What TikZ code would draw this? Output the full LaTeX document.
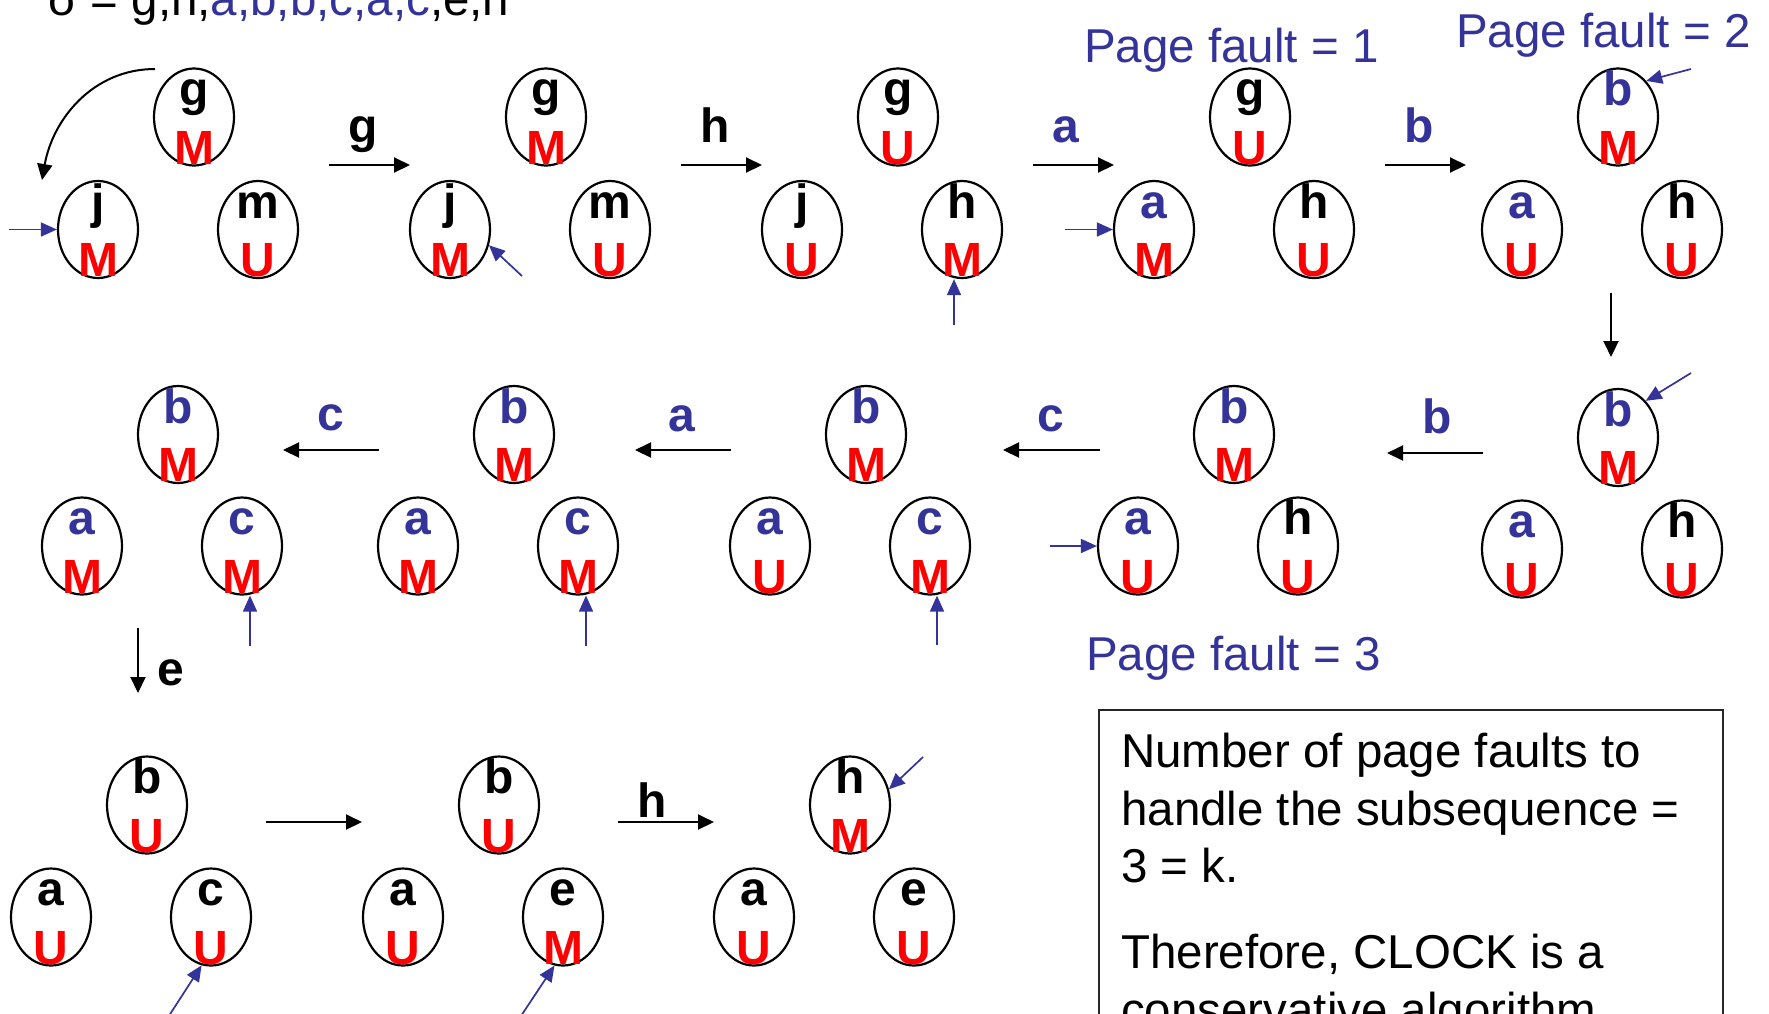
\documentclass[tikz,border=0pt]{standalone}
\usepackage{fontspec}
\setmainfont{Liberation Sans}
\usetikzlibrary{arrows.meta,shapes.geometric}

\definecolor{pfblue}{RGB}{51,51,153}
\definecolor{bitred}{RGB}{255,0,0}

\newcommand\bl[1]{\textcolor{pfblue}{#1}}

\tikzset{
  pg/.style={ellipse, draw=black, line width=2.2pt, minimum width=80pt,
    minimum height=97pt, inner sep=0pt},
  lbl/.style={font=\fontsize{48}{48}\selectfont\bfseries, inner sep=0pt, anchor=base},
  bit/.style={lbl, text=bitred},
  stepar/.style={line width=2pt, -{Triangle[length=16pt,width=15pt]}},
  ptr/.style={draw=pfblue, line width=1.7pt, -{Triangle[length=16pt,width=14pt]}},
  pf/.style={font=\fontsize{47.5}{47.5}\selectfont, text=pfblue, inner sep=0pt,
    anchor=base west},
  note/.style={font=\fontsize{47.5}{47.5}\selectfont, inner sep=0pt, anchor=base west},
}

% one clock slot: name, x, y, page letter, use bit
\newcommand\pgcell[5]{%
  \node[pg] (#1) at (#2,#3) {};
  \node[lbl] (#1-l) at ([yshift=11.5pt]#1.center) {#4};
  \node[bit] (#1-b) at ([yshift=-47pt]#1.center) {#5};
}

\begin{document}
\begin{tikzpicture}[x=1pt,y=-1pt]
\useasboundingbox (0,0) rectangle (1769,1013);
\fill[white] (0,0) rectangle (1769,1013);
\clip (0,0) rectangle (1769,1013);

% request sequence
\node[font=\fontsize{47.5}{47.5}\selectfont, inner sep=0pt, anchor=base west] (seq)
  at (48,15) {σ = g,h,\bl{a,b,b,c,a,c},e,h};

% ---- first row ----
\pgcell{g1t}{194}{117}{g}{M}
\pgcell{g1l}{98}{229.5}{j}{M}
\pgcell{g1r}{258}{229.5}{m}{U}

\pgcell{g2t}{546}{117}{g}{M}
\pgcell{g2l}{450}{229.5}{j}{M}
\pgcell{g2r}{610}{229.5}{m}{U}

\pgcell{g3t}{898}{117}{g}{U}
\pgcell{g3l}{802}{229.5}{j}{U}
\pgcell{g3r}{962}{229.5}{h}{M}

\pgcell{g4t}{1250}{117}{g}{U}
\pgcell{g4l}{1154}{229.5}{\bl{a}}{M}
\pgcell{g4r}{1314}{229.5}{h}{U}

\pgcell{g5t}{1618}{117}{\bl{b}}{M}
\pgcell{g5l}{1522}{229.5}{\bl{a}}{U}
\pgcell{g5r}{1682}{229.5}{h}{U}

% ---- second row ----
\pgcell{r5t}{1618}{437.5}{\bl{b}}{M}
\pgcell{r5l}{1522}{549}{\bl{a}}{U}
\pgcell{r5r}{1682}{549}{h}{U}

\pgcell{r4t}{1234}{434.5}{\bl{b}}{M}
\pgcell{r4l}{1138}{546}{\bl{a}}{U}
\pgcell{r4r}{1298}{546}{h}{U}

\pgcell{r3t}{866}{434.5}{\bl{b}}{M}
\pgcell{r3l}{770}{546}{\bl{a}}{U}
\pgcell{r3r}{930}{546}{\bl{c}}{M}

\pgcell{r2t}{514}{434.5}{\bl{b}}{M}
\pgcell{r2l}{418}{546}{\bl{a}}{M}
\pgcell{r2r}{578}{546}{\bl{c}}{M}

\pgcell{r1t}{178}{434.5}{\bl{b}}{M}
\pgcell{r1l}{82}{546}{\bl{a}}{M}
\pgcell{r1r}{242}{546}{\bl{c}}{M}

% ---- third row ----
\pgcell{s1t}{147}{805}{b}{U}
\pgcell{s1l}{51}{917}{a}{U}
\pgcell{s1r}{211}{917}{c}{U}

\pgcell{s2t}{499}{805}{b}{U}
\pgcell{s2l}{403}{917}{a}{U}
\pgcell{s2r}{563}{917}{e}{M}

\pgcell{s3t}{850}{805}{h}{M}
\pgcell{s3l}{754}{917}{a}{U}
\pgcell{s3r}{914}{917}{e}{U}

% ---- step arrows between states ----
\coordinate (a1s) at (329,165);  \coordinate (a1e) at (410,165);
\coordinate (a2s) at (681,165);  \coordinate (a2e) at (762,165);
\coordinate (a3s) at (1033,165); \coordinate (a3e) at (1114,165);
\coordinate (a4s) at (1385,165); \coordinate (a4e) at (1466,165);
\coordinate (d1s) at (1611,293); \coordinate (d1e) at (1611,357);
\coordinate (b1s) at (1483,453); \coordinate (b1e) at (1387,453);
\coordinate (b2s) at (1100,450); \coordinate (b2e) at (1003,450);
\coordinate (b3s) at (731,450);  \coordinate (b3e) at (635,450);
\coordinate (b4s) at (379,450);  \coordinate (b4e) at (283,450);
\coordinate (d2s) at (138,628);  \coordinate (d2e) at (138,693);
\coordinate (c1s) at (266,822);  \coordinate (c1e) at (362,822);
\coordinate (c2s) at (618,822);  \coordinate (c2e) at (714,822);
\coordinate (arcs) at (155,69);  \coordinate (arce) at (42,180);

\draw[stepar] (arcs) to[out=180,in=80] (arce);
\draw[stepar] (a1s) -- (a1e);
\draw[stepar] (a2s) -- (a2e);
\draw[stepar] (a3s) -- (a3e);
\draw[stepar] (a4s) -- (a4e);
\draw[stepar] (d1s) -- (d1e);
\draw[stepar] (b1s) -- (b1e);
\draw[stepar] (b2s) -- (b2e);
\draw[stepar] (b3s) -- (b3e);
\draw[stepar] (b4s) -- (b4e);
\draw[stepar] (d2s) -- (d2e);
\draw[stepar] (c1s) -- (c1e);
\draw[stepar] (c2s) -- (c2e);

\node[lbl] (la1) at (363,142) {g};
\node[lbl] (la2) at (715,142) {h};
\node[lbl, text=pfblue] (la3) at (1066,142) {a};
\node[lbl, text=pfblue] (la4) at (1419,142) {b};
\node[lbl, text=pfblue] (lb1) at (1437,433) {b};
\node[lbl, text=pfblue] (lb2) at (1051,431) {c};
\node[lbl, text=pfblue] (lb3) at (682,431) {a};
\node[lbl, text=pfblue] (lb4) at (331,430) {c};
\node[lbl] (ld2) at (171,685) {e};
\node[lbl] (lc2) at (652,817) {h};

% ---- clock hand pointers ----
\coordinate (p1) at (9,229.5);
\coordinate (p2) at (522,276);
\coordinate (p3) at (954,325);
\coordinate (p4) at (1065,229.5);
\coordinate (p5) at (1691,69);
\coordinate (p6) at (1691,373);
\coordinate (p7) at (1050,546);
\coordinate (p8) at (937,645);
\coordinate (p9) at (586,646);
\coordinate (p10) at (250,646);
\coordinate (p11) at (165,1022);
\coordinate (p12) at (517,1022);
\coordinate (p13) at (923,757);

\draw[ptr] (p1) -- (g1l.west);
\draw[ptr] (p2) -- (g2l.-22);
\draw[ptr] (p3) -- (p3 |- g3r.south);
\draw[ptr] (p4) -- (g4l.west);
\draw[ptr] (p5) -- (g5t.52);
\draw[ptr] (p6) -- (r5t.53);
\draw[ptr] (p7) -- (r4l.west);
\draw[ptr] (p8) -- (p8 |- r3r.south);
\draw[ptr] (p9) -- (p9 |- r2r.south);
\draw[ptr] (p10) -- (p10 |- r1r.south);
\draw[ptr] (p11) -- (s1r.-101);
\draw[ptr] (p12) -- (s2r.-100);
\draw[ptr] (p13) -- (s3t.22);

% ---- fault counters ----
\node[pf] (pf1) at (1084,62) {Page fault = 1};
\node[pf] (pf2) at (1456,47) {Page fault = 2};
\node[pf] (pf3) at (1086,670) {Page fault = 3};

% ---- conclusion box ----
\node[draw=black!85, line width=2pt, minimum width=624pt, minimum height=340pt,
  inner sep=0pt, anchor=north west] (box) at (1098,709) {};
\node[note] (n1) at (1121,767) {Number of page faults to};
\node[note] (n2) at (1121,825) {handle the subsequence =};
\node[note] (n3) at (1121,882) {3 = k.};
\node[note] (n4) at (1121,968) {Therefore, CLOCK is a};
\node[note] (n5) at (1121,1026) {conservative algorithm.};
\end{tikzpicture}
\end{document}
